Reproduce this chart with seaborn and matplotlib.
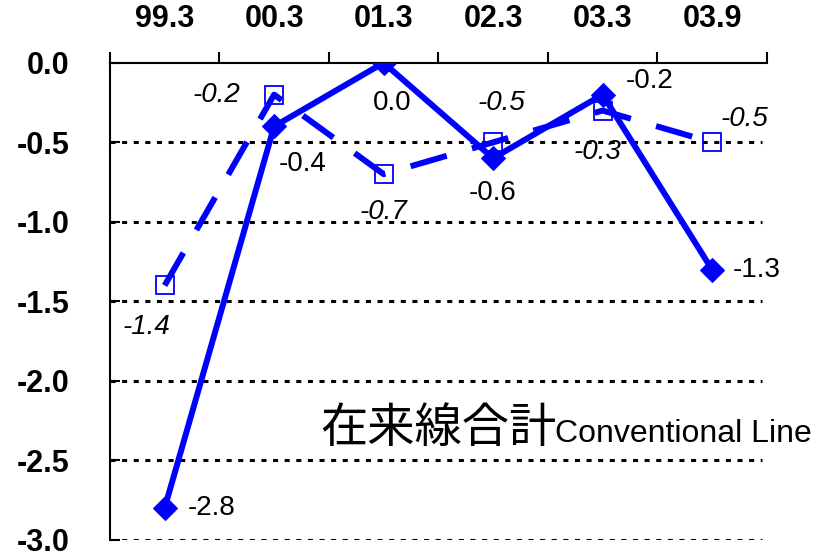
import numpy as np
import pandas as pd
import seaborn as sns
import matplotlib.pyplot as plt

# data
periods = ["99.3", "00.3", "01.3", "02.3", "03.3", "03.9"]
solid_vals = [-2.8, -0.4, 0.0, -0.6, -0.2, -1.3]
dashed_vals = [-1.4, -0.2, -0.7, -0.5, -0.3, -0.5]
ytick_vals = [0.0, -0.5, -1.0, -1.5, -2.0, -2.5, -3.0]
ytick_labels = ["0.0", "-0.5", "-1.0", "-1.5", "-2.0", "-2.5", "-3.0"]

# label offsets (points) for each series
solid_offsets = [(17, 0, "left"), (3, -27, "left"), (6, -29, "center"),
                 (0, -25, "center"), (17, 10, "left"), (15, 0, "left")]
dashed_offsets = [(-13, -30, "center"), (-24, 0, "right"), (0, -27, "center"),
                  (6, 28, "center"), (-4, -30, "center"), (6, 17, "left")]

sns.set_style("white")
plt.rcParams["font.family"] = ["Liberation Sans", "DejaVu Sans"]
plt.rcParams["axes.unicode_minus"] = False
plt.rcParams["text.color"] = "black"
plt.rcParams["xtick.color"] = "black"
plt.rcParams["ytick.color"] = "black"

df = pd.DataFrame({"period": periods, "solid": solid_vals, "dashed": dashed_vals})
blue = "#0000FF"

fig = plt.figure(figsize=(8.14, 5.56), dpi=100)
ax = fig.add_axes([0.135, 0.029, 0.807, 0.858])

sns.lineplot(data=df, x="period", y="dashed", ax=ax, color=blue, lw=4.3,
             marker="s", markersize=13, markerfacecolor="none",
             markeredgecolor=blue, markeredgewidth=1.3, zorder=3)
ax.lines[-1].set_dashes((6.3, 4.4))
ax.lines[-1].set_dash_capstyle("butt")
sns.lineplot(data=df, x="period", y="solid", ax=ax, color=blue, lw=4.3,
             marker="D", markersize=12, markeredgecolor=blue, zorder=4)

for i, v in enumerate(solid_vals):
    dx, dy, ha = solid_offsets[i]
    ax.annotate(f"{v:.1f}", (i, v), xytext=(dx, dy), textcoords="offset points",
                ha=ha, va="center", fontsize=20, color="black")
for i, v in enumerate(dashed_vals):
    dx, dy, ha = dashed_offsets[i]
    ax.annotate(f"{v:.1f}", (i, v), xytext=(dx, dy), textcoords="offset points",
                ha=ha, va="center", fontsize=20, style="italic", color="black")

ax.set_xlim(-0.5, 5.5)
ax.set_ylim(-3.0, 0.0)
ax.set_xlabel("")
ax.set_ylabel("")

ax.xaxis.tick_top()
ax.set_xticks(np.arange(len(periods)))
ax.set_xticklabels(periods, fontsize=22, fontweight="bold")
ax.set_xticks(np.arange(-0.5, 6, 1), minor=True)
ax.tick_params(axis="x", which="major", length=0, pad=21)
ax.tick_params(axis="x", which="minor", length=8, width=1.5, direction="out", top=True)
ax.set_yticks(ytick_vals)
ax.set_yticklabels(ytick_labels, fontsize=22, fontweight="bold")
ax.tick_params(axis="y", length=7, width=1.5, direction="in", pad=29, left=True)

for yv in ytick_vals[1:]:
    ax.axhline(yv, xmin=0, xmax=0.992, color="black", lw=2.2,
               ls=(0, (1.65, 2.15)), zorder=1)

for s in ["right", "bottom"]:
    ax.spines[s].set_visible(False)
for s in ["left", "top"]:
    ax.spines[s].set_color("black")
    ax.spines[s].set_linewidth(1.5)

ax.text(0.32, 0.2055, "在来線合計", transform=ax.transAxes, fontsize=34,
        family=["Noto Sans CJK JP", "DejaVu Sans"], va="baseline", ha="left")
ax.text(0.677, 0.2055, "Conventional Line", transform=ax.transAxes, fontsize=23,
        va="baseline", ha="left")

fig.savefig("out.png", dpi=100)
